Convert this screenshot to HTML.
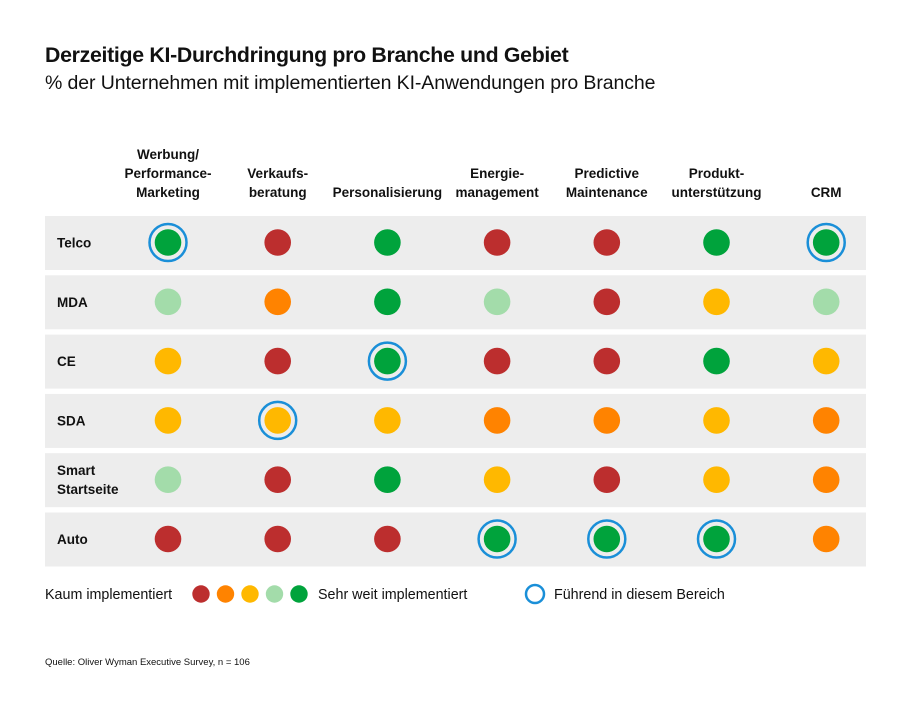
<!DOCTYPE html>
<html><head><meta charset="utf-8"><style>
body{margin:0;background:#fff;font-family:"Liberation Sans",sans-serif;}
svg text{font-family:"Liberation Sans",sans-serif;fill:#111;}
</style></head><body>
<svg width="914" height="715" id="chart">
<text x="45" y="62" font-size="21.3" font-weight="bold" style="letter-spacing:-0.3px">Derzeitige KI-Durchdringung pro Branche und Gebiet</text>
<text x="45" y="89" font-size="19.5" style="letter-spacing:-0.1px">% der Unternehmen mit implementierten KI-Anwendungen pro Branche</text>
<g id="grid"></g>
<g>
<text x="45" y="599" font-size="14.3">Kaum implementiert</text>
<g id="legdots"></g>
<text x="318" y="599" font-size="14.3">Sehr weit implementiert</text>
<circle cx="535" cy="594" r="9" fill="none" stroke="#1a8fd8" stroke-width="2.5"/>
<text x="554" y="599" font-size="14.3">Führend in diesem Bereich</text>
</g>
<text x="45" y="665" font-size="9.5">Quelle: Oliver Wyman Executive Survey, n = 106</text>
</svg>
<script>
const columns=[["Werbung/","Performance-","Marketing"],["Verkaufs-","beratung"],["Personalisierung"],["Energie-","management"],["Predictive","Maintenance"],["Produkt-","unterstützung"],["CRM"]];
const rowsLabels=[["Telco"],["MDA"],["CE"],["SDA"],["Smart","Startseite"],["Auto"]];
const levels=[[4,0,4,0,0,4,4],[3,1,4,3,0,2,3],[2,0,4,0,0,4,2],[2,2,2,1,1,2,1],[3,0,4,2,0,2,1],[0,0,0,4,4,4,1]];
const leaders=[[1,0,0,0,0,0,1],[0,0,0,0,0,0,0],[0,0,1,0,0,0,0],[0,1,0,0,0,0,0],[0,0,0,0,0,0,0],[0,0,0,1,1,1,0]];
const palette=["#bc2e2e","#ff8300","#ffb800","#a3dcaa","#00a33c"];
const NS="http://www.w3.org/2000/svg";
const g=document.getElementById('grid');
const colX=i=>168+i*109.7;
const rowY=j=>242.5+j*59.3;
function mk(t,a){const e=document.createElementNS(NS,t);for(const k in a)e.setAttribute(k,a[k]);return e;}
columns.forEach((lines,i)=>{
  const t=mk('text',{x:colX(i),'text-anchor':'middle','font-size':13.5,'font-weight':'bold'});
  
  
  const base=197-(lines.length-1)*19;
  lines.forEach((l,k)=>{const s=mk('tspan',{x:colX(i),y:base+k*19});s.textContent=l;t.appendChild(s);});
  g.appendChild(t);
});
rowsLabels.forEach((lines,j)=>{
  const r=mk('rect',{x:45,y:rowY(j)-26.5,width:821,height:54,fill:'#ededed'});
  
  
  g.appendChild(r);
  const t=mk('text',{'font-size':13.5,'font-weight':'bold'});
  
  
  const base=rowY(j)+5-(lines.length-1)*9.5;
  lines.forEach((l,k)=>{const s=mk('tspan',{x:57,y:base+k*19});s.textContent=l;t.appendChild(s);});
  g.appendChild(t);
  levels[j].forEach((v,i)=>{
    if(leaders[j][i]){const c=mk('circle',{cx:colX(i),cy:rowY(j),r:18.5,fill:'none',stroke:'#1a8fd8','stroke-width':2.5});
      
      
      g.appendChild(c);}
    const d=mk('circle',{cx:colX(i),cy:rowY(j),r:13.3,fill:palette[v]});
    
    
    g.appendChild(d);
  });
});
const ld=document.getElementById('legdots');
palette.forEach((c,i)=>{const d=mk('circle',{cx:201+i*24.5,cy:594,r:8.7,fill:c});
  
  
  ld.appendChild(d);});
</script>
</body></html>
